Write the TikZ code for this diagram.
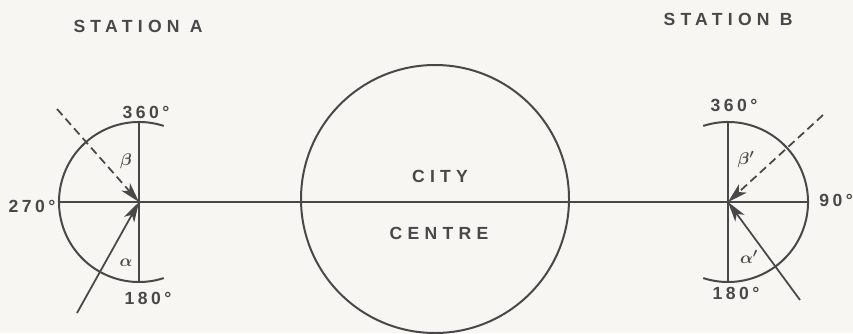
\documentclass[tikz,border=0pt]{standalone}
\usepackage{fontspec}
\setmainfont{Liberation Sans}
\newfontfamily\titlefont[LetterSpace=30]{Liberation Sans}
\newfontfamily\degfont[LetterSpace=20]{Liberation Sans}
\usetikzlibrary{arrows.meta,positioning}
\definecolor{InkGrey}{RGB}{72,72,72}
\definecolor{PaperWhite}{RGB}{247,246,243}
\tikzset{
  ink/.style={draw=InkGrey,line width=1.7pt},
  bearing/.style={-{Stealth[length=6mm,width=3.4mm,inset=1.6mm]},draw=InkGrey,line width=1.5pt},
  deg/.style={text=InkGrey,font=\degfont\bfseries\fontsize{15}{15}\selectfont,inner sep=0pt},
  title/.style={text=InkGrey,font=\titlefont\bfseries\fontsize{15}{15}\selectfont,inner sep=0pt},
  angl/.style={text=InkGrey,font=\boldmath\fontsize{15}{15}\selectfont,inner sep=0pt}
}

\begin{document}
\begin{tikzpicture}[x=0.03cm,y=0.03cm]
      \fill[PaperWhite] (0,0) rectangle (853,333);
      \useasboundingbox (0,0) rectangle (853,333);

      % station centres and ends of the axes
      \coordinate (cA) at (139,131);
      \coordinate (cB) at (728,131);
      \coordinate (topA) at (139,210);
      \coordinate (botA) at (139,52);
      \coordinate (topB) at (728,210);
      \coordinate (botB) at (728,52);
      \coordinate (westA) at (59,131);
      \coordinate (eastB) at (808,131);

      % city centre
      \node[ink,circle,minimum size=268*0.03cm,inner sep=0pt] (city) at (435,134) {};
      \node[title] (cityname) at (440,157) {CITY};
      \node[title] (centrename) at (439,100) {CENTRE};

      % baseline between the stations
      \draw[ink] (westA) -- (eastB);

      % station A
      \draw[ink] (topA) -- (botA);
      \draw[ink] ([shift={(72:80)}]cA) arc[start angle=72,end angle=288,radius=80];
      \node[title] (nameA) at (138,307) {STATION A};
      \node[deg] (nA) at (146,221) {360°};
      \node[deg] (sA) at (148,35) {180°};
      \node[deg] (wA) at (32,127) {270°};
      \node[angl] (betaA) at (126,172) {$\beta$};
      \node[angl] (alphaA) at (126,70) {$\alpha$};
      \coordinate (dashA) at (57,224);
      \coordinate (rayA) at (77,20);
      \draw[bearing,dashed,dash pattern=on 7pt off 4pt] (dashA) -- (cA);
      \draw[bearing] (rayA) -- (cA);

      % station B
      \draw[ink] (topB) -- (botB);
      \draw[ink] ([shift={(108:80)}]cB) arc[start angle=108,end angle=-108,radius=80];
      \node[title] (nameB) at (728,314) {STATION B};
      \node[deg] (nB) at (734,228) {360°};
      \node[deg] (sB) at (736,40) {180°};
      \node[deg,anchor=west] (eB) at (819,133) {90°};
      \node[angl] (betaB) at (746,173) {$\beta'$};
      \node[angl] (alphaB) at (749,76) {$\alpha'$};
      \coordinate (dashB) at (823,218);
      \coordinate (rayB) at (800,33);
      \draw[bearing,dashed,dash pattern=on 7pt off 4pt] (dashB) -- (cB);
      \draw[bearing] (rayB) -- (cB);
    \end{tikzpicture}
\end{document}
